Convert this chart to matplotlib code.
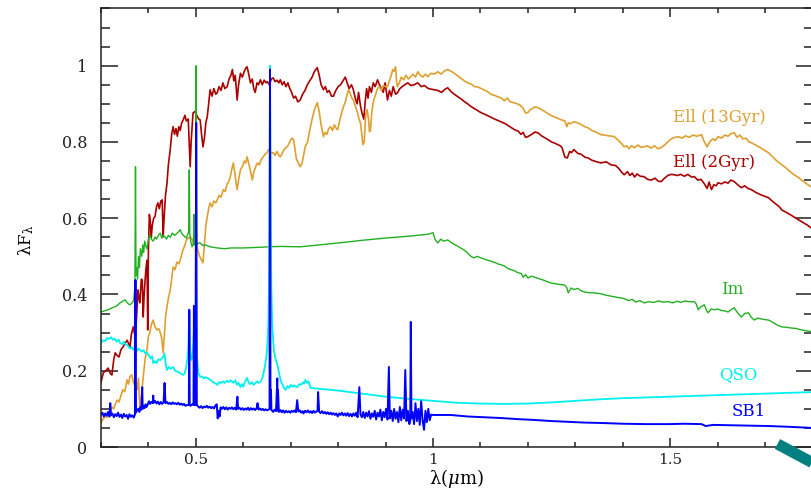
import matplotlib
matplotlib.use("Agg")
import matplotlib.pyplot as plt
from matplotlib.ticker import MultipleLocator, FuncFormatter
from matplotlib.lines import Line2D

plt.rcParams['font.family'] = ['DejaVu Serif']
plt.rcParams['mathtext.fontset'] = 'dejavuserif'

# ---------------- data ----------------
ell2_w = [0.300,0.305,0.310,0.315,0.320,0.323,0.327,0.330,0.334,0.338,0.342,0.346,0.350,0.355,0.358,0.361,0.364,0.368,0.372,0.375,
          0.378,0.380,0.382,0.385,0.387,0.389,0.391,0.393,0.395,0.397,0.3985,0.400,0.402,0.404,0.406,0.408,0.411,0.414,0.417,0.420,
          0.423,0.426,0.429,0.431,0.433,0.436,0.439,0.442,0.446,0.449,0.452,0.455,0.458,0.461,0.464,0.467,0.470,0.474,0.477,0.480,
          0.484,0.486,0.488,0.490,0.494,0.498,0.502,0.506,0.509,0.512,0.515,0.518,0.521,0.524,0.527,0.530,0.534,0.538,0.542,0.545,
          0.549,0.553,0.557,0.561,0.566,0.570,0.574,0.577,0.580,0.583,0.587,0.590,0.594,0.598,0.602,0.606,0.608,0.612,0.615,0.619,
          0.622,0.625,0.629,0.632,0.636,0.640,0.644,0.648,0.651,0.655,0.659,0.663,0.667,0.671,0.675,0.678,0.682,0.686,0.690,0.694,
          0.698,0.702,0.706,0.710,0.715,0.720,0.725,0.730,0.735,0.740,0.745,0.750,0.756,0.760,0.764,0.769,0.773,0.777,0.781,0.786,
          0.790,0.795,0.800,0.805,0.810,0.815,0.819,0.823,0.828,0.832,0.836,0.840,0.843,0.847,0.850,0.854,0.857,0.860,0.863,0.866,
          0.870,0.874,0.878,0.883,0.887,0.891,0.895,0.899,0.904,0.908,0.912,0.916,0.921,0.925,0.930,0.935,0.940,0.947,0.953,0.960,
          0.968,0.975,0.982,0.990,1.002,1.010,1.018,1.025,1.031,1.038,1.045,1.052,1.060,1.067,1.073,1.080,1.088,1.095,1.101,1.110,
          1.120,1.130,1.143,1.152,1.162,1.172,1.180,1.185,1.190,1.195,1.200,1.208,1.215,1.221,1.230,1.240,1.250,1.260,1.268,1.272,
          1.278,1.283,1.288,1.292,1.297,1.305,1.312,1.320,1.327,1.335,1.345,1.354,1.365,1.375,1.385,1.392,1.398,1.403,1.410,1.415,
          1.420,1.425,1.430,1.437,1.445,1.452,1.460,1.468,1.475,1.481,1.488,1.495,1.502,1.508,1.515,1.522,1.530,1.537,1.545,1.551,
          1.558,1.565,1.572,1.578,1.582,1.587,1.592,1.597,1.601,1.608,1.615,1.622,1.628,1.635,1.642,1.650,1.657,1.664,1.671,1.680,
          1.690,1.700,1.707,1.715,1.722,1.730,1.735,1.745,1.755,1.765,1.777,1.789,1.800]
ell2_f = [0.170,0.195,0.200,0.207,0.192,0.189,0.230,0.247,0.240,0.236,0.255,0.262,0.270,0.280,0.272,0.262,0.295,0.315,0.289,0.340,
          0.412,0.390,0.378,0.440,0.438,0.341,0.400,0.438,0.470,0.490,0.307,0.520,0.610,0.590,0.550,0.580,0.600,0.605,0.630,0.640,
          0.625,0.645,0.648,0.551,0.600,0.660,0.690,0.740,0.780,0.820,0.840,0.820,0.835,0.815,0.840,0.830,0.850,0.860,0.870,0.855,
          0.860,0.800,0.735,0.800,0.876,0.880,0.870,0.860,0.858,0.820,0.787,0.810,0.850,0.866,0.900,0.937,0.920,0.940,0.925,0.929,
          0.945,0.935,0.955,0.940,0.945,0.965,0.975,0.990,0.960,0.975,0.910,0.950,0.980,0.970,0.985,0.995,0.997,0.975,0.955,0.965,
          0.940,0.930,0.955,0.950,0.963,0.950,0.962,0.955,0.958,0.950,0.965,0.968,0.958,0.962,0.955,0.963,0.950,0.958,0.945,0.955,
          0.940,0.930,0.915,0.920,0.905,0.910,0.925,0.935,0.950,0.960,0.970,0.985,0.995,0.975,0.950,0.937,0.945,0.930,0.935,0.920,
          0.920,0.935,0.945,0.950,0.960,0.970,0.955,0.940,0.950,0.937,0.915,0.900,0.930,0.895,0.877,0.860,0.905,0.940,0.915,0.945,
          0.930,0.955,0.945,0.963,0.950,0.940,0.930,0.955,0.910,0.935,0.920,0.945,0.925,0.929,0.940,0.945,0.950,0.955,0.948,0.950,
          0.955,0.945,0.948,0.940,0.937,0.935,0.930,0.938,0.942,0.932,0.925,0.919,0.912,0.905,0.900,0.893,0.887,0.882,0.877,0.872,
          0.866,0.860,0.853,0.848,0.840,0.832,0.828,0.820,0.825,0.812,0.814,0.820,0.826,0.824,0.815,0.808,0.800,0.795,0.790,0.785,
          0.760,0.758,0.775,0.772,0.780,0.770,0.768,0.760,0.758,0.752,0.748,0.745,0.748,0.740,0.738,0.730,0.720,0.714,0.722,0.712,
          0.718,0.708,0.716,0.710,0.709,0.702,0.700,0.705,0.697,0.696,0.705,0.712,0.715,0.714,0.712,0.715,0.710,0.715,0.708,0.709,
          0.700,0.702,0.690,0.678,0.695,0.675,0.688,0.685,0.693,0.690,0.695,0.692,0.700,0.696,0.688,0.680,0.685,0.678,0.675,0.668,
          0.662,0.657,0.654,0.645,0.638,0.630,0.622,0.615,0.608,0.600,0.591,0.582,0.572]

ell13_w = [0.300,0.305,0.310,0.314,0.319,0.323,0.327,0.330,0.334,0.338,0.342,0.346,0.350,0.355,0.358,0.361,0.365,0.368,0.372,0.376,
           0.379,0.382,0.385,0.389,0.393,0.397,0.400,0.403,0.406,0.410,0.414,0.418,0.422,0.425,0.428,0.431,0.434,0.436,0.439,0.442,
           0.446,0.449,0.452,0.456,0.460,0.464,0.467,0.470,0.473,0.477,0.480,0.484,0.488,0.492,0.496,0.500,0.504,0.508,0.512,0.515,
           0.518,0.521,0.524,0.527,0.530,0.534,0.538,0.542,0.545,0.549,0.553,0.558,0.562,0.566,0.568,0.572,0.576,0.579,0.582,0.585,
           0.587,0.590,0.594,0.598,0.602,0.605,0.608,0.612,0.615,0.619,0.622,0.626,0.630,0.634,0.638,0.642,0.646,0.650,0.653,0.656,
           0.660,0.663,0.667,0.671,0.675,0.678,0.682,0.686,0.690,0.694,0.698,0.702,0.706,0.709,0.712,0.716,0.720,0.724,0.728,0.731,
           0.735,0.740,0.745,0.750,0.756,0.760,0.764,0.769,0.772,0.776,0.780,0.784,0.788,0.792,0.796,0.799,0.803,0.807,0.811,0.815,
           0.819,0.822,0.826,0.829,0.832,0.836,0.840,0.844,0.847,0.850,0.852,0.855,0.858,0.861,0.864,0.866,0.868,0.871,0.875,0.879,
           0.883,0.887,0.891,0.895,0.900,0.904,0.908,0.912,0.915,0.918,0.921,0.923,0.925,0.929,0.933,0.938,0.943,0.948,0.953,0.958,
           0.963,0.968,0.973,0.978,0.984,0.989,0.995,1.002,1.010,1.017,1.024,1.031,1.038,1.044,1.050,1.058,1.066,1.073,1.080,1.088,
           1.095,1.102,1.107,1.115,1.122,1.130,1.137,1.143,1.150,1.157,1.163,1.170,1.178,1.185,1.190,1.195,1.200,1.205,1.210,1.215,
           1.221,1.230,1.240,1.248,1.255,1.263,1.270,1.278,1.282,1.285,1.290,1.297,1.305,1.313,1.320,1.327,1.335,1.345,1.354,1.362,
           1.370,1.378,1.382,1.390,1.398,1.403,1.408,1.413,1.418,1.425,1.432,1.438,1.445,1.452,1.460,1.467,1.474,1.481,1.488,1.495,
           1.502,1.510,1.517,1.525,1.532,1.540,1.548,1.556,1.566,1.572,1.578,1.583,1.590,1.595,1.601,1.608,1.615,1.622,1.628,1.635,
           1.641,1.647,1.653,1.660,1.666,1.671,1.680,1.690,1.700,1.707,1.715,1.725,1.735,1.741,1.750,1.760,1.770,1.777,1.788,1.800]
ell13_f = [0.063,0.075,0.080,0.078,0.089,0.105,0.100,0.112,0.123,0.118,0.135,0.150,0.145,0.176,0.165,0.185,0.189,0.170,0.160,0.150,
           0.180,0.097,0.130,0.184,0.230,0.255,0.290,0.300,0.320,0.333,0.315,0.307,0.310,0.300,0.285,0.247,0.300,0.340,0.367,0.390,
           0.412,0.440,0.472,0.465,0.485,0.480,0.490,0.505,0.517,0.530,0.543,0.548,0.551,0.545,0.530,0.540,0.515,0.500,0.490,0.483,
           0.530,0.580,0.604,0.625,0.640,0.630,0.645,0.640,0.648,0.660,0.655,0.675,0.670,0.690,0.693,0.705,0.730,0.745,0.720,0.690,
           0.675,0.700,0.727,0.735,0.750,0.745,0.761,0.740,0.725,0.700,0.720,0.735,0.745,0.740,0.755,0.761,0.768,0.772,0.780,0.775,
           0.770,0.772,0.765,0.775,0.765,0.761,0.770,0.780,0.785,0.790,0.800,0.810,0.806,0.780,0.755,0.745,0.735,0.745,0.770,0.790,
           0.798,0.830,0.860,0.885,0.903,0.880,0.845,0.814,0.825,0.820,0.835,0.840,0.830,0.845,0.835,0.832,0.855,0.875,0.892,0.905,
           0.925,0.937,0.925,0.915,0.910,0.895,0.880,0.860,0.850,0.820,0.793,0.800,0.870,0.885,0.860,0.827,0.830,0.880,0.910,0.925,
           0.940,0.945,0.935,0.948,0.945,0.945,0.960,0.975,0.990,0.985,0.997,0.960,0.945,0.955,0.970,0.963,0.975,0.965,0.971,0.978,
           0.970,0.984,0.975,0.970,0.978,0.971,0.980,0.978,0.984,0.978,0.986,0.990,0.985,0.981,0.975,0.968,0.960,0.955,0.952,0.945,
           0.944,0.940,0.937,0.932,0.925,0.922,0.918,0.916,0.908,0.915,0.905,0.903,0.900,0.895,0.888,0.876,0.877,0.885,0.888,0.892,
           0.890,0.884,0.876,0.870,0.866,0.862,0.858,0.855,0.840,0.850,0.848,0.853,0.850,0.845,0.840,0.837,0.830,0.825,0.819,0.818,
           0.816,0.815,0.814,0.805,0.795,0.787,0.790,0.782,0.790,0.785,0.792,0.786,0.787,0.790,0.784,0.790,0.782,0.785,0.792,0.800,
           0.808,0.812,0.814,0.810,0.816,0.812,0.818,0.815,0.819,0.800,0.787,0.800,0.808,0.804,0.814,0.810,0.818,0.815,0.822,0.824,
           0.812,0.818,0.808,0.810,0.800,0.798,0.792,0.785,0.777,0.772,0.762,0.750,0.740,0.735,0.725,0.715,0.707,0.700,0.690,0.680]

im_w = [0.300,0.305,0.310,0.315,0.320,0.325,0.330,0.335,0.340,0.345,0.351,0.354,0.358,0.361,0.364,0.367,0.369,0.3715,0.3727,0.3738,
        0.375,0.377,0.379,0.381,0.383,0.386,0.388,0.390,0.392,0.395,0.397,0.400,0.403,0.406,0.410,0.414,0.417,0.421,0.425,0.428,
        0.431,0.435,0.438,0.442,0.446,0.450,0.455,0.460,0.464,0.467,0.470,0.474,0.477,0.480,0.4835,0.4848,0.4861,0.4872,0.489,0.492,
        0.4950,0.4959,0.4968,0.4995,0.5007,0.5019,0.505,0.509,0.515,0.520,0.530,0.545,0.560,0.575,0.587,0.600,0.620,0.640,0.651,0.680,
        0.720,0.760,0.800,0.850,0.900,0.950,0.990,1.000,1.004,1.010,1.016,1.022,1.031,1.040,1.050,1.058,1.065,1.072,1.080,1.086,
        1.093,1.101,1.110,1.120,1.130,1.137,1.143,1.150,1.158,1.165,1.172,1.179,1.186,1.190,1.195,1.200,1.207,1.213,1.222,1.232,
        1.240,1.249,1.258,1.268,1.277,1.282,1.285,1.291,1.297,1.305,1.312,1.318,1.327,1.340,1.354,1.365,1.378,1.390,1.397,1.405,
        1.412,1.420,1.428,1.436,1.445,1.455,1.465,1.475,1.485,1.496,1.505,1.515,1.523,1.530,1.540,1.551,1.555,1.559,1.565,1.572,
        1.576,1.580,1.586,1.593,1.600,1.608,1.615,1.622,1.628,1.635,1.642,1.650,1.657,1.665,1.671,1.677,1.685,1.695,1.707,1.715,
        1.725,1.735,1.745,1.755,1.765,1.777,1.790,1.800]
im_f = [0.354,0.356,0.358,0.360,0.363,0.366,0.368,0.372,0.378,0.382,0.386,0.380,0.375,0.373,0.376,0.380,0.386,0.420,0.735,0.450,
        0.470,0.440,0.500,0.470,0.520,0.500,0.530,0.510,0.540,0.525,0.520,0.545,0.556,0.545,0.540,0.551,0.545,0.555,0.561,0.548,
        0.555,0.551,0.545,0.555,0.550,0.561,0.555,0.560,0.565,0.570,0.560,0.555,0.551,0.548,0.560,0.565,0.727,0.560,0.540,0.525,
        0.535,0.610,0.530,0.530,1.000,0.530,0.535,0.535,0.528,0.530,0.525,0.522,0.520,0.522,0.522,0.522,0.523,0.524,0.525,0.526,
        0.525,0.530,0.535,0.542,0.548,0.553,0.558,0.562,0.545,0.535,0.545,0.540,0.543,0.535,0.528,0.522,0.517,0.510,0.500,0.496,
        0.500,0.496,0.492,0.488,0.484,0.480,0.478,0.475,0.468,0.465,0.462,0.457,0.455,0.445,0.452,0.443,0.448,0.446,0.442,0.438,
        0.434,0.430,0.428,0.426,0.425,0.418,0.404,0.417,0.413,0.416,0.410,0.407,0.405,0.404,0.402,0.398,0.395,0.392,0.391,0.388,
        0.384,0.387,0.380,0.384,0.378,0.381,0.379,0.383,0.380,0.381,0.378,0.382,0.379,0.383,0.381,0.381,0.375,0.360,0.368,0.373,
        0.360,0.352,0.362,0.360,0.362,0.358,0.357,0.354,0.360,0.365,0.352,0.341,0.350,0.352,0.340,0.333,0.338,0.335,0.333,0.328,
        0.320,0.315,0.314,0.312,0.311,0.307,0.304,0.302]

qso_w = [0.300,0.305,0.309,0.313,0.317,0.321,0.325,0.329,0.333,0.337,0.340,0.344,0.348,0.352,0.355,0.359,0.362,0.365,0.368,0.372,
         0.376,0.379,0.382,0.386,0.390,0.393,0.397,0.401,0.405,0.408,0.410,0.413,0.417,0.421,0.425,0.428,0.431,0.434,0.436,0.439,
         0.443,0.447,0.452,0.456,0.460,0.465,0.469,0.473,0.476,0.479,0.482,0.484,0.4861,0.488,0.490,0.493,0.4959,0.498,0.5007,0.502,
         0.505,0.509,0.513,0.517,0.520,0.524,0.528,0.532,0.536,0.540,0.545,0.549,0.553,0.557,0.561,0.565,0.569,0.573,0.577,0.579,
         0.583,0.587,0.590,0.594,0.597,0.600,0.604,0.608,0.611,0.614,0.618,0.621,0.625,0.629,0.632,0.636,0.640,0.643,0.646,0.649,
         0.651,0.653,0.654,0.655,0.6563,0.658,0.659,0.661,0.664,0.667,0.672,0.676,0.680,0.685,0.689,0.693,0.697,0.700,0.704,0.707,
         0.711,0.714,0.718,0.722,0.726,0.728,0.731,0.734,0.737,0.740,0.742,0.800,0.850,0.900,0.950,1.000,1.050,1.100,1.150,1.200,
         1.250,1.300,1.350,1.400,1.450,1.500,1.550,1.600,1.650,1.700,1.750,1.800]
qso_f = [0.273,0.280,0.278,0.286,0.283,0.288,0.281,0.284,0.276,0.282,0.273,0.270,0.276,0.268,0.268,0.262,0.258,0.262,0.255,0.262,
         0.252,0.258,0.255,0.250,0.254,0.246,0.247,0.240,0.232,0.238,0.220,0.225,0.220,0.230,0.228,0.232,0.236,0.245,0.220,0.202,
         0.210,0.205,0.210,0.200,0.198,0.195,0.192,0.189,0.192,0.205,0.230,0.262,0.352,0.262,0.228,0.235,0.300,0.250,0.430,0.240,
         0.195,0.184,0.185,0.180,0.183,0.181,0.178,0.175,0.170,0.168,0.163,0.170,0.168,0.172,0.168,0.174,0.170,0.175,0.171,0.168,
         0.175,0.163,0.168,0.157,0.165,0.158,0.172,0.181,0.170,0.165,0.170,0.163,0.167,0.172,0.168,0.171,0.180,0.195,0.215,0.240,
         0.270,0.330,0.420,0.600,1.000,0.600,0.420,0.320,0.260,0.235,0.215,0.190,0.170,0.157,0.150,0.160,0.155,0.163,0.158,0.162,
         0.158,0.157,0.165,0.163,0.170,0.166,0.176,0.168,0.172,0.162,0.155,0.148,0.140,0.132,0.126,0.121,0.116,0.114,0.113,0.114,
         0.117,0.121,0.125,0.128,0.130,0.132,0.134,0.136,0.138,0.140,0.142,0.144]

sb1_w = [0.300,0.303,0.306,0.309,0.312,0.315,0.318,0.3195,0.321,0.324,0.327,0.330,0.333,0.336,0.339,0.342,0.345,0.348,0.351,0.354,
         0.357,0.360,0.363,0.366,0.369,0.3715,0.3727,0.3738,0.376,0.379,0.381,0.383,0.385,0.3869,0.388,0.390,0.392,0.394,0.396,0.398,
         0.401,0.4035,0.406,0.409,0.4101,0.411,0.414,0.417,0.420,0.423,0.426,0.429,0.432,0.4340,0.436,0.439,0.442,0.445,0.448,0.451,
         0.454,0.457,0.460,0.463,0.466,0.469,0.472,0.475,0.478,0.481,0.4852,0.4861,0.4870,0.489,0.492,0.4950,0.4959,0.4968,0.4990,0.5007,
         0.5020,0.505,0.508,0.511,0.514,0.517,0.520,0.523,0.526,0.529,0.532,0.535,0.538,0.541,0.544,0.546,0.548,0.550,0.552,0.555,
         0.558,0.561,0.564,0.567,0.570,0.573,0.576,0.579,0.582,0.585,0.5876,0.589,0.592,0.595,0.598,0.601,0.604,0.607,0.610,0.613,
         0.616,0.619,0.622,0.625,0.628,0.6300,0.632,0.635,0.638,0.641,0.644,0.647,0.650,0.653,0.6553,0.6563,0.6573,0.6583,0.6593,0.663,
         0.666,0.669,0.6717,0.6724,0.6731,0.675,0.678,0.681,0.684,0.687,0.690,0.693,0.696,0.699,0.702,0.705,0.708,0.711,0.7136,0.716,
         0.719,0.722,0.725,0.727,0.730,0.733,0.736,0.739,0.742,0.745,0.748,0.751,0.754,0.7565,0.7577,0.760,0.763,0.766,0.769,0.772,
         0.775,0.778,0.781,0.784,0.787,0.790,0.793,0.796,0.799,0.802,0.805,0.808,0.811,0.814,0.817,0.820,0.823,0.826,0.829,0.832,
         0.835,0.838,0.841,0.8446,0.847,0.850,0.853,0.856,0.859,0.862,0.865,0.868,0.871,0.874,0.877,0.880,0.883,0.886,0.889,0.892,
         0.895,0.898,0.901,0.904,0.9069,0.909,0.912,0.915,0.918,0.921,0.924,0.927,0.930,0.933,0.936,0.939,0.9415,0.944,0.947,0.950,
         0.952,0.9531,0.9545,0.957,0.960,0.963,0.966,0.969,0.972,0.975,0.978,0.981,0.984,0.987,0.990,0.993,0.996,1.000,1.037,1.073,
         1.110,1.143,1.180,1.213,1.250,1.285,1.320,1.354,1.400,1.450,1.496,1.530,1.566,1.575,1.590,1.630,1.670,1.707,1.750,1.800]
sb1_f = [0.084,0.090,0.080,0.088,0.082,0.092,0.080,0.115,0.083,0.088,0.078,0.086,0.081,0.090,0.079,0.085,0.076,0.087,0.080,0.084,
         0.074,0.086,0.079,0.083,0.077,0.085,0.438,0.090,0.097,0.100,0.092,0.105,0.098,0.157,0.100,0.108,0.102,0.112,0.105,0.110,
         0.120,0.113,0.118,0.115,0.135,0.116,0.121,0.114,0.119,0.112,0.118,0.113,0.117,0.168,0.115,0.118,0.113,0.116,0.112,0.117,
         0.113,0.115,0.112,0.116,0.111,0.114,0.110,0.113,0.108,0.110,0.110,0.360,0.110,0.108,0.112,0.110,0.370,0.110,0.110,0.850,
         0.110,0.106,0.103,0.107,0.102,0.106,0.104,0.108,0.103,0.106,0.102,0.105,0.101,0.108,0.112,0.075,0.095,0.080,0.104,0.100,
         0.105,0.099,0.104,0.098,0.103,0.100,0.104,0.099,0.103,0.098,0.132,0.100,0.103,0.098,0.102,0.097,0.101,0.098,0.103,0.097,
         0.102,0.098,0.101,0.097,0.101,0.115,0.098,0.101,0.097,0.100,0.096,0.099,0.096,0.098,0.100,0.990,0.100,0.150,0.097,0.092,
         0.098,0.094,0.180,0.095,0.150,0.092,0.097,0.091,0.096,0.090,0.095,0.091,0.094,0.090,0.095,0.092,0.096,0.091,0.123,0.093,
         0.096,0.090,0.094,0.088,0.095,0.091,0.096,0.090,0.094,0.089,0.095,0.090,0.093,0.095,0.144,0.092,0.089,0.094,0.088,0.092,
         0.087,0.091,0.086,0.090,0.085,0.089,0.084,0.088,0.080,0.088,0.084,0.090,0.083,0.088,0.082,0.089,0.081,0.087,0.080,0.088,
         0.082,0.090,0.078,0.157,0.085,0.078,0.092,0.076,0.090,0.080,0.094,0.074,0.088,0.079,0.095,0.072,0.090,0.080,0.098,0.070,
         0.092,0.078,0.100,0.072,0.210,0.075,0.095,0.068,0.100,0.074,0.092,0.065,0.105,0.070,0.098,0.075,0.202,0.068,0.095,0.060,
         0.070,0.328,0.075,0.092,0.060,0.115,0.068,0.100,0.058,0.120,0.070,0.045,0.095,0.065,0.100,0.070,0.085,0.084,0.084,0.080,
         0.078,0.076,0.073,0.071,0.068,0.066,0.064,0.063,0.061,0.060,0.060,0.061,0.060,0.055,0.058,0.057,0.056,0.055,0.053,0.050]

labels = ["Ell (13Gyr)", "Ell (2Gyr)", "Im", "QSO", "SB1"]
label_x = [1.506, 1.506, 1.608, 1.604, 1.629]
label_y = [0.864, 0.745, 0.412, 0.190, 0.092]

x_ticks = [0.5, 1.0, 1.5]
y_ticks = [0, 0.2, 0.4, 0.6, 0.8, 1.0]

# ---------------- plot ----------------
c_red = '#aa0000'
c_org = '#dea030'
c_grn = '#22b022'
c_cyn = '#00f0f0'
c_blu = '#0000ff'

fig = plt.figure(figsize=(8.11, 4.92), dpi=100)
ax = fig.add_axes([101/811, 45/492, 711.5/811, (447-8.3)/492])

ax.plot(ell2_w, ell2_f, color=c_red, lw=1.2)
ax.plot(ell13_w, ell13_f, color=c_org, lw=1.2)
ax.plot(im_w, im_f, color=c_grn, lw=1.0)
ax.plot(qso_w, qso_f, color=c_cyn, lw=1.3)
ax.plot(sb1_w, sb1_f, color=c_blu, lw=1.4)

for txt, tx, ty, col in zip(labels, label_x, label_y, [c_org, c_red, c_grn, c_cyn, c_blu]):
    ax.text(tx, ty, txt, color=col, fontsize=12, ha='left', va='center', family='DejaVu Serif')

ax.set_xlim(0.3, 1.8)
ax.set_ylim(0, 1.1505)
ax.set_xticks(x_ticks)
ax.set_yticks(y_ticks)
ax.xaxis.set_minor_locator(MultipleLocator(0.1))
ax.yaxis.set_minor_locator(MultipleLocator(0.05))
fmt = FuncFormatter(lambda v, p: '%g' % v)
ax.xaxis.set_major_formatter(fmt)
ax.yaxis.set_major_formatter(fmt)

ax.tick_params(axis='both', which='both', direction='in', top=True, right=True, width=1.1, colors='#222222', labelsize=11.5)
ax.tick_params(axis='y', which='major', length=12.2, pad=10)
ax.tick_params(axis='y', which='minor', length=6.5)
ax.tick_params(axis='x', which='major', length=6.5, pad=4, labelsize=11)
ax.tick_params(axis='x', which='minor', length=3.6)
for s in ax.spines.values():
    s.set_linewidth(1.1)
    s.set_color('#222222')

ax.set_xlabel(r'λ($\mathit{\mu}$m)', fontsize=13, labelpad=0)
fig.text(26/811, 1 - 240/492, r'λF$_{\mathregular{λ}}$', rotation=90, fontsize=12, ha='center', va='center')

fig.add_artist(Line2D([777.5/811, 840/811], [1 - 444/492, 1 - 477.5/492], transform=fig.transFigure,
                      color='#008080', lw=8, solid_capstyle='butt'))

fig.savefig('out.png', dpi=100)
